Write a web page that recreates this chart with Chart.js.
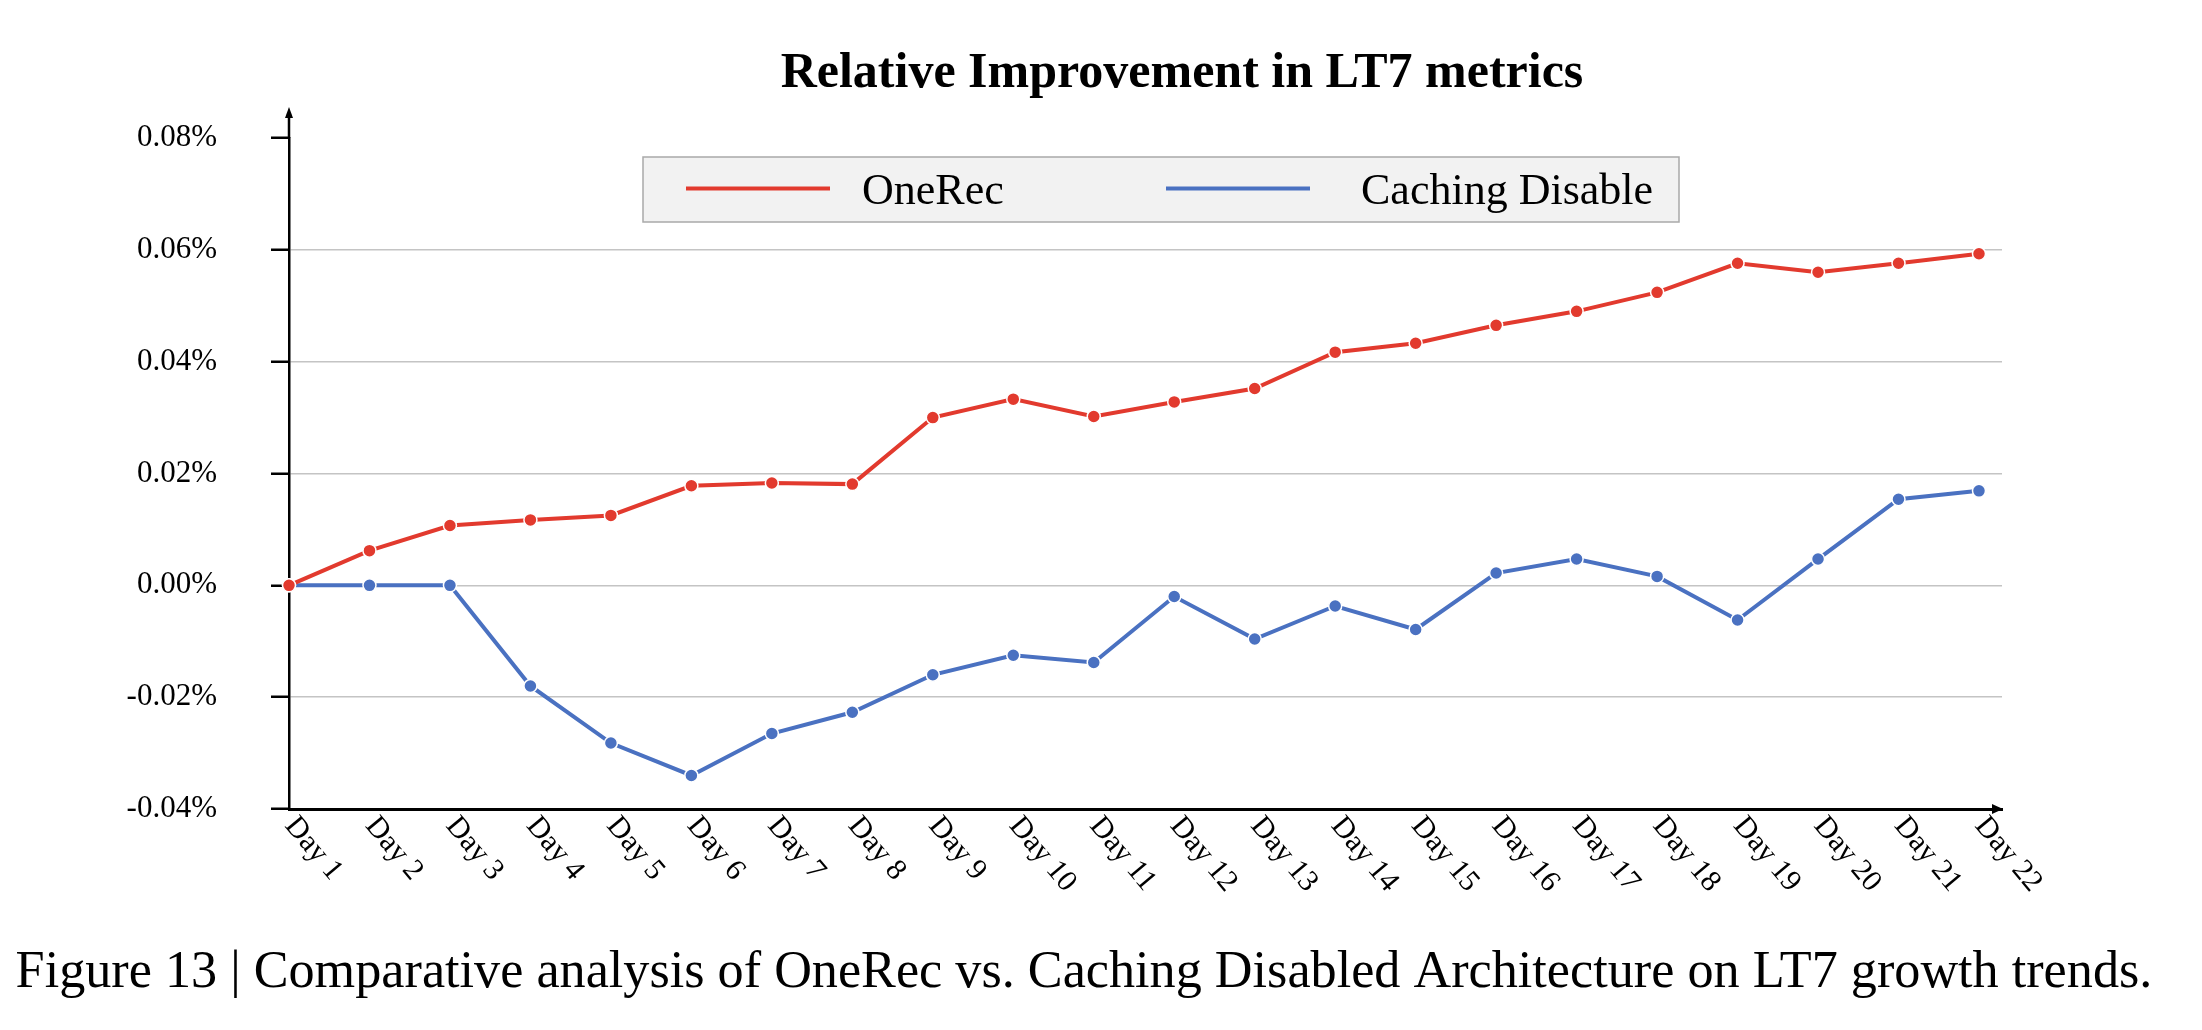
<!DOCTYPE html>
<html>
<head>
<meta charset="utf-8">
<script src="https://cdn.jsdelivr.net/npm/chart.js@4.4.1/dist/chart.umd.min.js"></script>
<style>
  html, body { margin: 0; padding: 0; background: #fff; }
  #wrap { width: 2202px; height: 1030px; position: relative; }
</style>
</head>
<body>
<div id="wrap"><canvas id="lt7Chart"></canvas></div>
<script>
// Data (values in %)
const days = ["Day 1", "Day 2", "Day 3", "Day 4", "Day 5", "Day 6", "Day 7", "Day 8",
  "Day 9", "Day 10", "Day 11", "Day 12", "Day 13", "Day 14", "Day 15", "Day 16",
  "Day 17", "Day 18", "Day 19", "Day 20", "Day 21", "Day 22"];
const oneRec = [0.0000, 0.0062, 0.0107, 0.0117, 0.0125, 0.0178, 0.0183, 0.0181,
  0.0300, 0.0333, 0.0302, 0.0328, 0.0352, 0.0417, 0.0433, 0.0465,
  0.0490, 0.0524, 0.0576, 0.0560, 0.0576, 0.0593];
const cachingDisable = [0.0000, 0.0000, 0.0000, -0.0180, -0.0282, -0.0340, -0.0265, -0.0227,
  -0.0160, -0.0125, -0.0138, -0.0020, -0.0096, -0.0037, -0.0079, 0.0022,
  0.0047, 0.0016, -0.0062, 0.0047, 0.0154, 0.0169];
const yTicks = [-0.04, -0.02, 0.00, 0.02, 0.04, 0.06, 0.08];

const titleText = "Relative Improvement in LT7 metrics";
const captionText = "Figure 13 | Comparative analysis of OneRec vs. Caching Disabled Architecture on LT7 growth trends.";

const RED = "#E23A2E";
const BLUE = "#4A71C1";
const FONT = "'Liberation Serif', 'Times New Roman', serif";

Chart.defaults.font.family = FONT;
Chart.defaults.color = "#000";

// title, legend box, axis arrows, rotated day labels and caption
const decor = {
  id: "decor",
  afterDraw(chart) {
    const { ctx, chartArea: a, scales: { x } } = chart;
    ctx.save();
    ctx.fillStyle = "#000";

    // title
    ctx.font = "bold 50px " + FONT;
    ctx.textAlign = "center";
    ctx.textBaseline = "alphabetic";
    ctx.fillText(titleText, 1182, 87);

    // y axis extension + arrow
    ctx.strokeStyle = "#000";
    ctx.lineWidth = 2.5;
    ctx.beginPath();
    ctx.moveTo(a.left, a.top);
    ctx.lineTo(a.left, a.top - 22);
    ctx.stroke();
    ctx.beginPath();
    ctx.moveTo(a.left, a.top - 31);
    ctx.lineTo(a.left - 4, a.top - 20);
    ctx.lineTo(a.left + 4, a.top - 20);
    ctx.closePath();
    ctx.fill();

    // x axis arrow
    ctx.beginPath();
    ctx.moveTo(a.right + 1, a.bottom);
    ctx.lineTo(a.right - 10, a.bottom - 5);
    ctx.lineTo(a.right - 10, a.bottom + 5);
    ctx.closePath();
    ctx.fill();

    // legend
    const ds = chart.data.datasets;
    ctx.fillStyle = "#f2f2f2";
    ctx.fillRect(643, 157, 1036, 65);
    ctx.strokeStyle = "#a9a9a9";
    ctx.lineWidth = 1.5;
    ctx.strokeRect(643, 157, 1036, 65);
    const items = [
      { x0: 686, x1: 830, tx: 862 },
      { x0: 1166, x1: 1310, tx: 1361 }
    ];
    ctx.font = "44px " + FONT;
    ctx.textAlign = "left";
    ctx.textBaseline = "alphabetic";
    items.forEach((it, i) => {
      ctx.strokeStyle = ds[i].borderColor;
      ctx.lineWidth = 4;
      ctx.beginPath();
      ctx.moveTo(it.x0, 188.5);
      ctx.lineTo(it.x1, 188.5);
      ctx.stroke();
      ctx.fillStyle = "#000";
      ctx.fillText(ds[i].label, it.tx, 203.5);
    });

    // rotated day labels
    ctx.font = "30px " + FONT;
    ctx.textAlign = "left";
    ctx.textBaseline = "middle";
    days.forEach((d, i) => {
      const px = x.getPixelForValue(i + 1);
      ctx.save();
      ctx.translate(px + 1, a.bottom + 12);
      ctx.rotate(50 * Math.PI / 180);
      ctx.fillText(d, 0, 0);
      ctx.restore();
    });

    // caption, fitted to the figure width
    ctx.font = "50px " + FONT;
    const w = ctx.measureText(captionText).width;
    const size = 50 * 2137 / w;
    ctx.font = size.toFixed(2) + "px " + FONT;
    ctx.textBaseline = "alphabetic";
    ctx.fillText(captionText, 15.6, 986.7);

    ctx.restore();
  }
};

const ctx = document.getElementById("lt7Chart").getContext("2d");

new Chart(ctx, {
  type: "line",
  data: {
    datasets: [
      {
        label: "OneRec",
        data: oneRec.map((v, i) => ({ x: i + 1, y: v })),
        borderColor: RED,
        backgroundColor: RED,
        pointBackgroundColor: RED,
        pointBorderColor: "#fff",
        pointBorderWidth: 1.5,
        pointRadius: 6.5,
        borderWidth: 4,
        tension: 0,
        clip: false
      },
      {
        label: "Caching Disable",
        data: cachingDisable.map((v, i) => ({ x: i + 1, y: v })),
        borderColor: BLUE,
        backgroundColor: BLUE,
        pointBackgroundColor: BLUE,
        pointBorderColor: "#fff",
        pointBorderWidth: 1.5,
        pointRadius: 6.5,
        borderWidth: 4,
        tension: 0,
        clip: false
      }
    ]
  },
  options: {
    responsive: true,
    maintainAspectRatio: false,
    animation: false,
    devicePixelRatio: 1,
    layout: { padding: { top: 138, right: 200, bottom: 0, left: 0 } },
    plugins: {
      legend: { display: false },
      title: { display: false },
      tooltip: { enabled: false }
    },
    scales: {
      x: {
        type: "linear",
        min: 1,
        max: 22.286,
        grid: { display: false },
        border: { display: true, color: "#000", width: 3 },
        ticks: { display: false, stepSize: 1 },
        afterFit(scale) { scale.height = 221; }
      },
      y: {
        min: -0.04,
        max: 0.08,
        afterBuildTicks(scale) {
          scale.ticks = yTicks.map(v => ({ value: v }));
        },
        grid: {
          color: c => (c.tick && (c.tick.value > 0.07 || c.tick.value < -0.03)) ? "rgba(0,0,0,0)" : "#c4c4c4",
          lineWidth: 1.5,
          tickColor: "#000",
          tickWidth: 2.5,
          tickLength: 18
        },
        border: { display: true, color: "#000", width: 2.5 },
        ticks: {
          padding: 54,
          font: { size: 31 },
          color: "#000",
          callback: v => (Math.abs(v) < 1e-9 ? 0 : v).toFixed(2) + "%"
        },
        afterFit(scale) { scale.width = 289; }
      }
    }
  },
  plugins: [decor]
});
</script>
</body>
</html>
